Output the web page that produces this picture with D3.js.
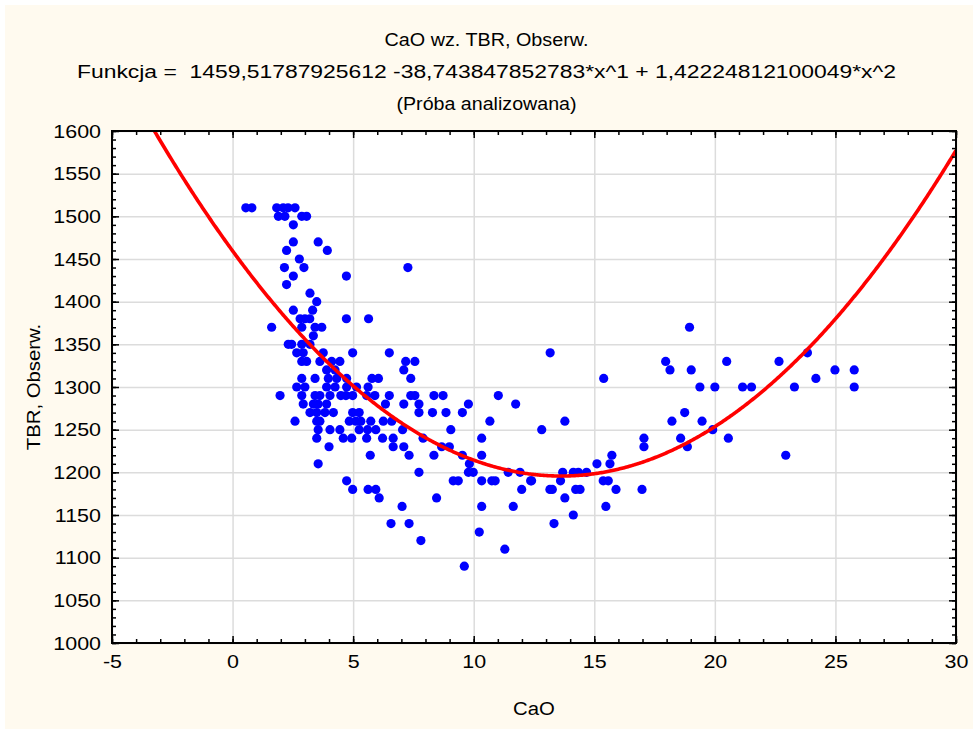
<!DOCTYPE html>
<html><head><meta charset="utf-8">
<script src="https://cdn.jsdelivr.net/npm/d3@7"></script>
<style>body{margin:0;background:#fff}svg{display:block}</style>
</head><body>
<script>
// ---- data ----
const titleLines = ["CaO wz. TBR, Obserw.",
  "Funkcja =  1459,51787925612 -38,743847852783*x^1 + 1,42224812100049*x^2",
  "(Próba analizowana)"];
const xLabel = "CaO";
const yLabel = "TBR, Obserw.";
const xTicks = [-5, 0, 5, 10, 15, 20, 25, 30];
const yTicks = [1000, 1050, 1100, 1150, 1200, 1250, 1300, 1350, 1400, 1450, 1500, 1550, 1600];
const coef = [1459.51787925612, -38.743847852783, 1.42224812100049];
const cao = [
 0.55,0.8,1.83,2.1,2.3,2.59,1.9,2.17,2.87,3.07,2.52,2.52,3.55,2.24,3.93,2.77,2.15,2.96,2.52,4.72,
 2.24,3.21,3.49,2.52,3.32,2.8,3.0,3.2,4.72,5.64,1.62,2.87,3.42,3.70,3.35,2.31,2.45,2.87,3.21,2.66,
 2.93,3.76,4.98,2.87,3.07,3.62,4.11,4.45,3.9,4.25,3.97,4.32,4.73,2.87,3.42,5.78,6.05,2.66,3.0,3.90,
 4.25,4.73,5.14,5.62,1.97,2.87,3.42,3.62,4.04,4.49,4.7,4.98,5.56,5.9,2.93,3.35,3.55,3.9,3.21,3.49,
 3.83,4.18,4.98,5.25,2.59,3.49,3.62,4.84,5.11,5.32,5.73,3.55,4.04,4.45,5.25,5.6,5.94,3.49,4.59,4.94,
 5.56,4.0,5.71,3.55,4.73,4.98,5.62,5.94,6.08,
 6.5,7.18,7.56,7.1,7.39,6.5,7.39,7.56,8.35,8.73,11.02,6.34,7.1,7.73,9.78,11.74,7.73,8.29,8.85,9.53,
 6.25,6.6,10.67,7.05,9.05,12.82,6.22,6.66,7.9,10.33,6.66,7.1,8.67,8.99,7.32,8.35,9.53,10.33,9.82,9.78,
 9.98,7.73,9.15,9.36,10.33,10.75,10.89,11.43,11.92,12.36,11.99,13.16,8.46,7.03,10.33,11.64,6.57,7.32,10.23,7.81,
 11.29,9.61,13.17,7.27,
 18.95,17.96,18.14,19.02,20.49,15.39,19.38,20.0,13.78,18.22,18.75,19.47,19.91,20.56,18.58,18.86,17.06,17.06,15.73,15.65,
 15.11,13.69,14.13,14.34,14.68,12.4,13.6,15.37,15.58,13.26,14.23,14.41,15.9,16.98,13.78,15.48,14.13,13.33,
 22.66,23.84,24.98,25.78,24.19,21.15,21.52,23.3,25.78,22.94];
const tbr = [
 1510,1510,1510,1510,1510,1510,1500,1500,1500,1500,1490,1470,1470,1460,1460,1450,1440,1440,1430,1430,
 1420,1410,1400,1390,1390,1380,1380,1380,1380,1380,1370,1370,1370,1370,1360,1350,1350,1350,1350,1340,
 1340,1340,1340,1330,1330,1330,1330,1330,1320,1320,1310,1310,1310,1310,1310,1310,1310,1300,1300,1300,
 1300,1300,1300,1300,1290,1290,1290,1290,1290,1290,1290,1290,1290,1290,1280,1280,1280,1280,1270,1270,
 1270,1270,1270,1270,1260,1260,1260,1260,1260,1260,1260,1250,1250,1250,1250,1250,1250,1240,1240,1240,
 1240,1230,1220,1210,1190,1180,1180,1180,1170,
 1340,1330,1330,1320,1310,1290,1290,1290,1290,1290,1290,1280,1280,1280,1280,1280,1270,1270,1270,1270,
 1260,1260,1260,1250,1250,1250,1240,1240,1240,1240,1230,1230,1230,1230,1220,1220,1220,1220,1210,1200,
 1200,1200,1190,1190,1190,1190,1190,1200,1200,1190,1180,1180,1170,1160,1160,1160,1140,1140,1130,1120,
 1110,1090,1340,1440,
 1370,1330,1320,1320,1330,1310,1300,1300,1260,1260,1270,1260,1250,1240,1240,1230,1240,1230,1220,1210,
 1210,1200,1200,1200,1200,1190,1190,1190,1190,1180,1180,1180,1180,1180,1170,1160,1150,1140,
 1330,1340,1320,1320,1310,1300,1300,1300,1300,1220];

// ---- layout ----
const W = 973, H = 729;
const L = 112, R = 956, T = 131, B = 643;
const SX = 1.13; // horizontal stretch of text
const font = "'Liberation Sans', Arial, sans-serif";

const svg = d3.select("body").append("svg").attr("width", W).attr("height", H);
svg.append("rect").attr("x", 5).attr("y", 5).attr("width", W - 5).attr("height", H - 5).attr("fill", "#fffaef");

const x = d3.scaleLinear().domain([-5, 30]).range([L, R]);
const y = d3.scaleLinear().domain([1000, 1600]).range([B, T]);

svg.append("rect").attr("x", L).attr("y", T).attr("width", R - L).attr("height", B - T).attr("fill", "#fff");

// grid
const grid = svg.append("g").attr("class", "grid");
grid.append("g").attr("transform", `translate(0,${B})`)
  .call(d3.axisBottom(x).tickValues(xTicks).tickSize(-(B - T)).tickFormat(""));
grid.append("g").attr("transform", `translate(${L},0)`)
  .call(d3.axisLeft(y).tickValues(yTicks).tickSize(-(R - L)).tickFormat(""));
grid.selectAll(".domain").remove();
grid.selectAll("line").attr("stroke", "#dcdcdc").attr("stroke-width", 1.5);

// clip
svg.append("clipPath").attr("id", "clip").append("rect")
  .attr("x", L).attr("y", T).attr("width", R - L).attr("height", B - T);

// points
svg.append("g").attr("clip-path", "url(#clip)")
  .selectAll("circle").data(d3.range(cao.length)).join("circle")
  .attr("cx", i => x(cao[i])).attr("cy", i => y(tbr[i])).attr("r", 4.6)
  .attr("fill", "#0000ff");

// fitted curve
const f = v => coef[0] + coef[1] * v + coef[2] * v * v;
const xs = d3.range(-5, 30.001, 0.05);
svg.append("path").attr("clip-path", "url(#clip)")
  .datum(xs)
  .attr("d", d3.line().x(v => x(v)).y(v => y(f(v))))
  .attr("fill", "none").attr("stroke", "#ff0000").attr("stroke-width", 3.6);

// axes with inward ticks
const fmt = d => String(d);
function styleAxis(g) {
  g.selectAll(".domain").remove();
  g.selectAll("line").attr("stroke", "#000").attr("stroke-width", 1.5);
  g.selectAll("text").attr("font-family", font).attr("font-size", 19).attr("fill", "#000");
}
const bx = svg.append("g").attr("transform", `translate(0,${B})`)
  .call(d3.axisBottom(x).tickValues(xTicks).tickSize(-7).tickPadding(12).tickFormat(fmt)).call(styleAxis);
bx.selectAll("text").attr("transform", `scale(${SX},1)`);
svg.append("g").attr("transform", `translate(0,${B})`)
  .call(d3.axisBottom(x).tickValues(d3.range(-5, 31, 1)).tickSize(-4).tickFormat("")).call(styleAxis);
svg.append("g").attr("transform", `translate(0,${T})`)
  .call(d3.axisTop(x).tickValues(xTicks).tickSize(-7).tickFormat("")).call(styleAxis);
svg.append("g").attr("transform", `translate(0,${T})`)
  .call(d3.axisTop(x).tickValues(d3.range(-5, 31, 1)).tickSize(-4).tickFormat("")).call(styleAxis);
const ly = svg.append("g").attr("transform", `translate(${L},0)`)
  .call(d3.axisLeft(y).tickValues(yTicks).tickSize(-7).tickPadding(11).tickFormat(fmt)).call(styleAxis);
ly.selectAll("text").attr("transform", `scale(${SX},1)`).attr("x", -11 / SX);
svg.append("g").attr("transform", `translate(${L},0)`)
  .call(d3.axisLeft(y).tickValues(d3.range(1000, 1601, 10)).tickSize(-4).tickFormat("")).call(styleAxis);
svg.append("g").attr("transform", `translate(${R},0)`)
  .call(d3.axisRight(y).tickValues(yTicks).tickSize(-7).tickFormat("")).call(styleAxis);
svg.append("g").attr("transform", `translate(${R},0)`)
  .call(d3.axisRight(y).tickValues(d3.range(1000, 1601, 10)).tickSize(-4).tickFormat("")).call(styleAxis);

// frame
svg.append("rect").attr("x", L).attr("y", T).attr("width", R - L).attr("height", B - T)
  .attr("fill", "none").attr("stroke", "#000").attr("stroke-width", 2);

// titles
const tb = [46, 78, 110];
const tw = [204, 819, 180];
titleLines.forEach((t, i) => {
  svg.append("text").attr("x", W / 2).attr("y", tb[i])
    .attr("text-anchor", "middle").attr("font-family", font).attr("font-size", 17.5)
    .attr("textLength", tw[i]).attr("lengthAdjust", "spacingAndGlyphs")
    .attr("xml:space", "preserve").style("white-space", "pre")
    .attr("fill", "#000").text(t);
});
svg.append("text").attr("transform", `translate(${(L + R) / 2},715) scale(${SX},1)`)
  .attr("text-anchor", "middle").attr("font-family", font).attr("font-size", 18)
  .attr("fill", "#000").text(xLabel);
svg.append("text").attr("transform", `translate(40,${(T + B) / 2}) rotate(-90) scale(${SX},1)`)
  .attr("text-anchor", "middle").attr("font-family", font).attr("font-size", 18)
  .attr("fill", "#000").text(yLabel);
</script>
</body></html>
